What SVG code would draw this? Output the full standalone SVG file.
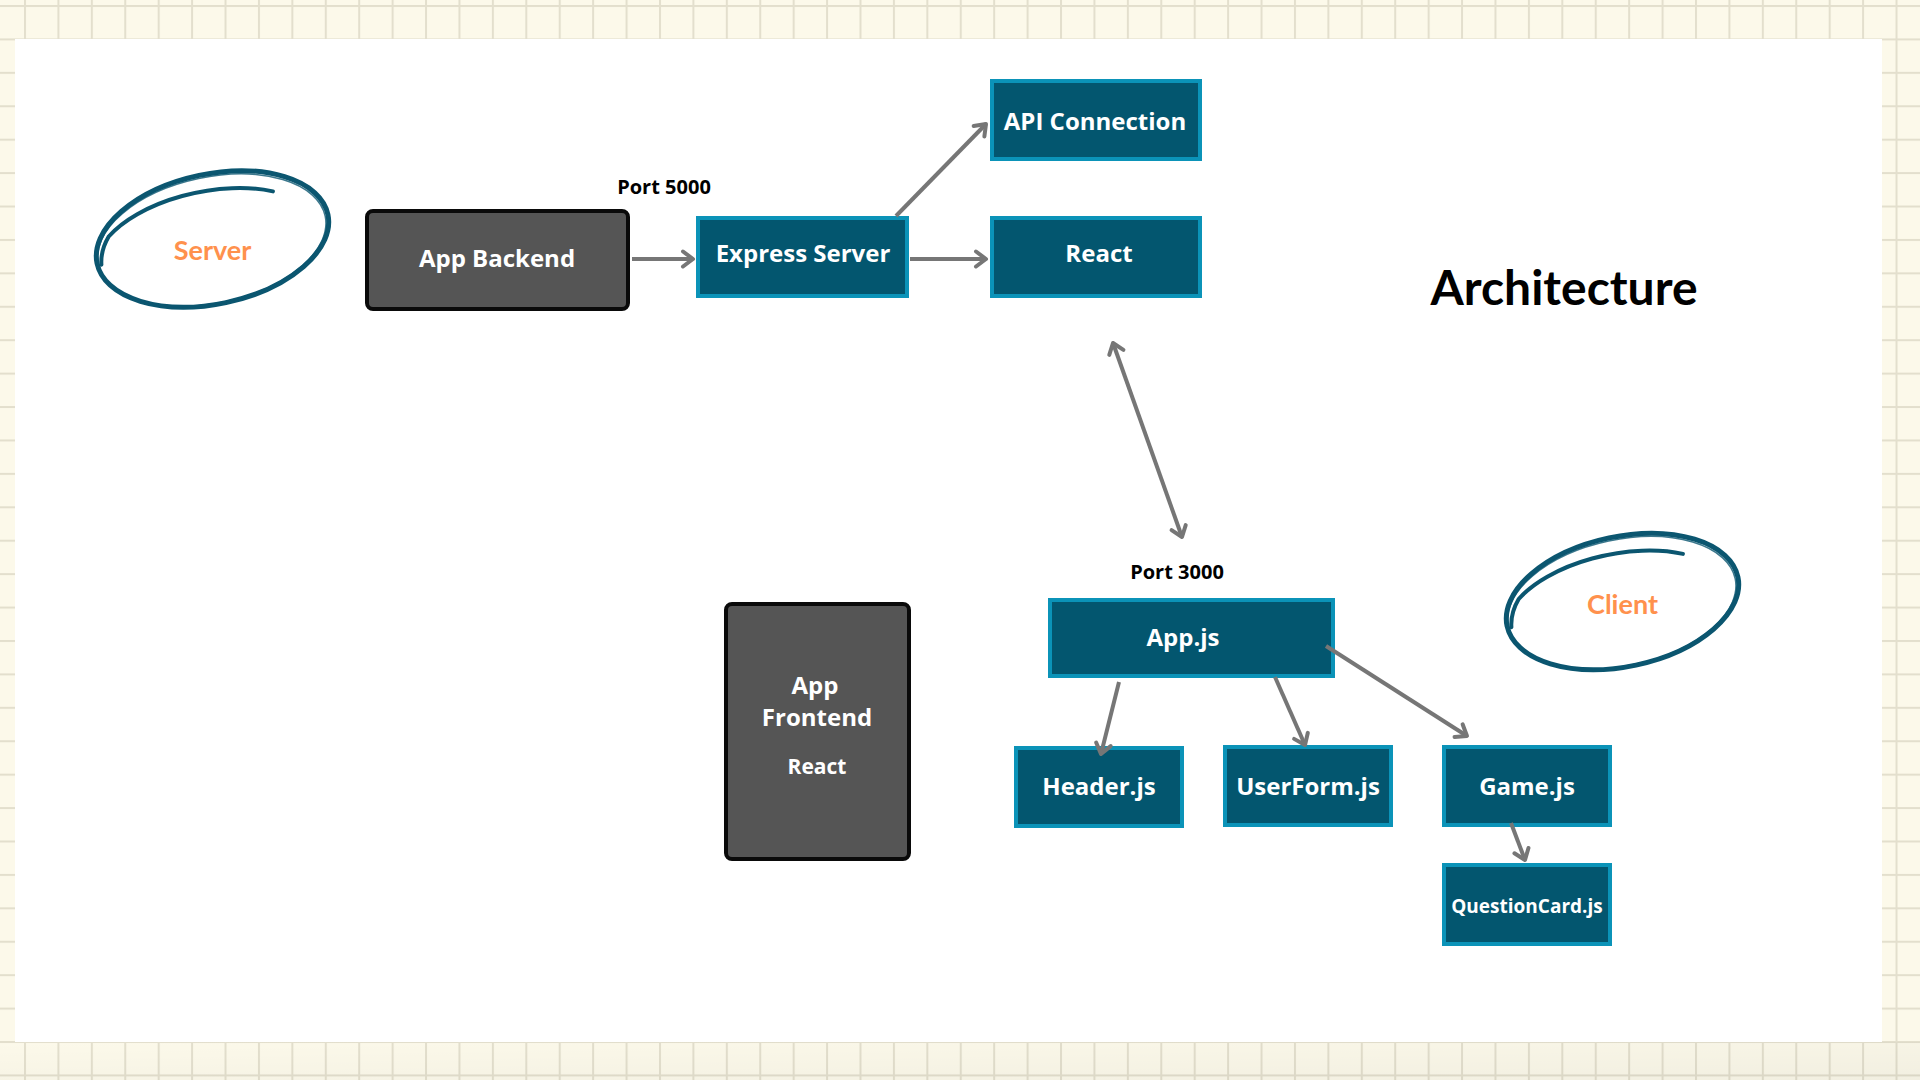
<svg xmlns="http://www.w3.org/2000/svg" width="1920" height="1080" viewBox="0 0 1920 1080">
  <defs>
    <pattern id="grid" patternUnits="userSpaceOnUse" x="24" y="5" width="33.42" height="33.42">
      <rect x="0" y="0" width="33.42" height="33.42" fill="#fcf9ea"/>
      <rect x="0" y="0" width="2" height="33.42" fill="#e3dfcd"/>
      <rect x="0" y="0" width="33.42" height="2" fill="#e3dfcd"/>
    </pattern>
    <linearGradient id="shade" x1="0" y1="0" x2="1" y2="1">
      <stop offset="0" stop-color="#000" stop-opacity="0"/>
      <stop offset="1" stop-color="#000" stop-opacity="0.04"/>
    </linearGradient>
    <marker id="ah" viewBox="-14 -12 18 24" refX="0" refY="0" markerWidth="18" markerHeight="24" markerUnits="userSpaceOnUse" orient="auto-start-reverse">
      <path d="M-10,-7.5 L0,0 L-10,7.5" fill="none" stroke="#767676" stroke-width="4" stroke-linecap="round" stroke-linejoin="round"/>
    </marker>
    <style>
      .teal { fill: #03566f; stroke: #0b93b8; stroke-width: 4; }
      .gray { fill: #555555; stroke: #0a0a0a; stroke-width: 4; }
      .lbl { font-family: "Open Sans", "DejaVu Sans", sans-serif; font-weight: 700; fill: #ffffff; text-anchor: middle; }
      .port { font-family: "Open Sans", "DejaVu Sans", sans-serif; font-weight: 700; fill: #000000; text-anchor: middle; font-size: 20px; }
      .tag { font-family: Lato, "Liberation Sans", sans-serif; font-weight: 700; fill: #ff914d; text-anchor: middle; font-size: 27px; }
      .loop { fill: none; stroke: #0b5670; stroke-linecap: round; }
      .conn { fill: none; stroke: #767676; stroke-width: 4; stroke-linecap: butt; marker-end: url(#ah); }
    </style>
  </defs>

  <!-- background -->
  <rect x="0" y="0" width="1920" height="1080" fill="url(#grid)"/>
  <rect x="0" y="1042" width="1920" height="38" fill="url(#shade)"/>
  <rect x="15" y="39" width="1867" height="1003" fill="#ffffff"/>

  <!-- title -->
  <text x="1564" y="305" font-family="Lato, 'Liberation Sans', sans-serif" font-weight="700" font-size="48" fill="#000" text-anchor="middle">Architecture</text>

  <!-- Server loop -->
  <g id="server-tag">
    <g transform="translate(212.5,239) rotate(-12)">
      <ellipse class="loop" cx="0" cy="0" rx="118" ry="65" stroke-width="5"/>
      <ellipse class="loop" cx="-1" cy="1" rx="116" ry="63" stroke-width="1.5" opacity="0.8"/>
      <path class="loop" d="M69,-34 A112,55 0 0 0 -101,-24 Q-112,-12 -114,2" stroke-width="4"/>
    </g>
    <text class="tag" x="212.5" y="260">Server</text>
  </g>

  <!-- Client loop -->
  <g id="client-tag">
    <g transform="translate(1622.5,601.5) rotate(-12)">
      <ellipse class="loop" cx="0" cy="0" rx="118" ry="65" stroke-width="5"/>
      <ellipse class="loop" cx="-1" cy="1" rx="116" ry="63" stroke-width="1.5" opacity="0.8"/>
      <path class="loop" d="M69,-34 A112,55 0 0 0 -101,-24 Q-112,-12 -114,2" stroke-width="4"/>
    </g>
    <text class="tag" x="1622.5" y="614">Client</text>
  </g>

  <!-- port labels -->
  <text class="port" x="664" y="194">Port 5000</text>
  <text class="port" x="1177" y="579">Port 3000</text>

  <!-- nodes -->
  <g id="app-backend">
    <rect class="gray" x="367" y="211" width="261" height="98" rx="6"/>
    <text class="lbl" x="497" y="267" font-size="24">App Backend</text>
  </g>
  <g id="express-server">
    <rect class="teal" x="698" y="218" width="209" height="78"/>
    <text class="lbl" x="803" y="262" font-size="24">Express Server</text>
  </g>
  <g id="api-connection">
    <rect class="teal" x="992" y="81" width="208" height="78"/>
    <text class="lbl" x="1095" y="130" font-size="24">API Connection</text>
  </g>
  <g id="react">
    <rect class="teal" x="992" y="218" width="208" height="78"/>
    <text class="lbl" x="1099" y="262" font-size="24">React</text>
  </g>
  <g id="app-frontend">
    <rect class="gray" x="726" y="604" width="183" height="255" rx="6"/>
    <text class="lbl" x="815" y="694" font-size="24">App</text>
    <text class="lbl" x="817" y="726" font-size="24">Frontend</text>
    <text class="lbl" x="817" y="774" font-size="21">React</text>
  </g>
  <g id="app-js">
    <rect class="teal" x="1050" y="600" width="283" height="76"/>
    <text class="lbl" x="1183" y="646" font-size="24">App.js</text>
  </g>
  <g id="header-js">
    <rect class="teal" x="1016" y="748" width="166" height="78"/>
    <text class="lbl" x="1099" y="795" font-size="24">Header.js</text>
  </g>
  <g id="userform-js">
    <rect class="teal" x="1225" y="747" width="166" height="78"/>
    <text class="lbl" x="1308" y="795" font-size="24">UserForm.js</text>
  </g>
  <g id="game-js">
    <rect class="teal" x="1444" y="747" width="166" height="78"/>
    <text class="lbl" x="1527" y="795" font-size="24">Game.js</text>
  </g>
  <g id="questioncard-js">
    <rect class="teal" x="1444" y="865" width="166" height="79"/>
    <text class="lbl" x="1527" y="913" font-size="19">QuestionCard.js</text>
  </g>

  <!-- connectors -->
  <g id="connectors">
    <line class="conn" x1="632" y1="259" x2="693" y2="259"/>
    <line class="conn" x1="910" y1="259" x2="986" y2="259"/>
    <line class="conn" x1="896" y1="216" x2="986" y2="124"/>
    <line class="conn" x1="1113" y1="343" x2="1182" y2="537" marker-start="url(#ah)"/>
    <line class="conn" x1="1119" y1="682" x2="1101" y2="754"/>
    <line class="conn" x1="1275" y1="677" x2="1305" y2="745"/>
    <line class="conn" x1="1326" y1="646" x2="1467" y2="736"/>
    <line class="conn" x1="1511" y1="823" x2="1525" y2="860"/>
  </g>
</svg>
